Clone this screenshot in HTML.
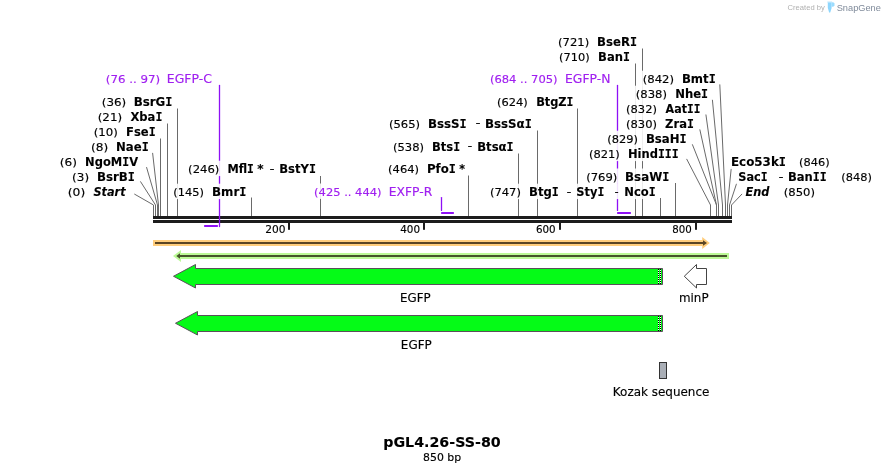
<!DOCTYPE html>
<html><head><meta charset="utf-8"><title>pGL4.26-SS-80</title>
<style>html,body{margin:0;padding:0;background:#fff}svg{display:block}text{font-family:'DejaVu Sans', 'Liberation Sans', sans-serif;white-space:pre}text.ls{font-family:Liberation Sans,Arial,sans-serif}</style></head><body>
<svg width="885" height="473" viewBox="0 0 885 473">
<rect width="885" height="473" fill="#fff"/>
<rect x="153" y="216" width="579" height="3" fill="#1c1c1c"/>
<rect x="153" y="220" width="579" height="3" fill="#1c1c1c"/>
<rect x="288" y="223" width="2" height="6.8" fill="#1c1c1c"/>
<rect x="423" y="223" width="2" height="6.8" fill="#1c1c1c"/>
<rect x="559" y="223" width="2" height="6.8" fill="#1c1c1c"/>
<rect x="695" y="223" width="2" height="6.8" fill="#1c1c1c"/>
<g stroke="#6a6a6a" stroke-width="1" fill="none">
<path d="M177.5 108.5V216"/>
<path d="M167.5 123.5V216"/>
<path d="M160.5 138.5V216"/>
<path d="M251.5 197.5V216"/>
<path d="M320.5 176V216"/>
<path d="M468.5 175.5V216"/>
<path d="M518.5 153.5V216"/>
<path d="M537.5 130.5V216"/>
<path d="M577.5 108.5V216"/>
<path d="M635.5 63.5V216"/>
<path d="M642.5 48.5V216"/>
<path d="M660.5 198V216"/>
<path d="M675.5 183V216"/>
<path d="M134.3 194.0L153.5 205V216"/>
<path d="M140.4 181.4L155.5 205V216"/>
<path d="M146.5 167.1L157.5 205V216"/>
<path d="M152.6 152.9L158.5 205V216"/>
<path d="M686.6 158.9L710.5 205V216"/>
<path d="M692.3 144.3L716.5 205V216"/>
<path d="M699.8 129.4L716.5 205V216"/>
<path d="M705.9 114.5L718.5 205V216"/>
<path d="M712.4 99.8L722.5 205V216"/>
<path d="M719.8 84.4L725.5 205V216"/>
<path d="M731.3 167.6L727.5 205V216"/>
<path d="M736.8 182.9L729.5 205V216"/>
<path d="M742.1 193.9L731.5 205V216"/>
</g>
<g stroke="#8e10f5" fill="none" stroke-width="1.3" stroke-linecap="round">
<path d="M219.5 85.5V226.5"/>
<path d="M441.5 197.6V210.4"/>
<path d="M617.5 85.5V210.4"/>
</g>
<g fill="#8e10f5">
<rect x="204" y="225" width="14" height="2" rx="0.7"/>
<rect x="441" y="212" width="13" height="2" rx="0.7"/>
<rect x="617" y="212" width="14" height="2" rx="0.7"/>
</g>
<g fill="#fff" fill-opacity="0.88">
<rect x="99.9" y="93.7" width="74.5" height="15.4"/>
<rect x="95.8" y="108.7" width="68.5" height="15.4"/>
<rect x="91.8" y="123.7" width="65.8" height="15.4"/>
<rect x="89.1" y="138.7" width="61.5" height="15.4"/>
<rect x="58.0" y="153.7" width="82.8" height="15.4"/>
<rect x="70.2" y="168.7" width="66.6" height="15.4"/>
<rect x="65.9" y="183.7" width="62.8" height="15.4"/>
<rect x="103.9" y="70.7" width="110.2" height="15.4"/>
<rect x="171.3" y="183.7" width="77.1" height="15.4"/>
<rect x="186.2" y="160.7" width="131.7" height="15.4"/>
<rect x="312.2" y="183.5" width="122.5" height="15.4"/>
<rect x="386.2" y="160.7" width="81.4" height="15.4"/>
<rect x="391.1" y="138.2" width="124.4" height="15.4"/>
<rect x="387.0" y="115.2" width="146.7" height="15.4"/>
<rect x="556.1" y="33.5" width="82.7" height="15.4"/>
<rect x="557.2" y="48.5" width="74.7" height="15.4"/>
<rect x="488.0" y="70.7" width="124.0" height="15.4"/>
<rect x="495.1" y="93.5" width="80.3" height="15.4"/>
<rect x="488.0" y="183.7" width="169.7" height="15.4"/>
<rect x="584.3" y="168.5" width="86.9" height="15.4"/>
<rect x="587.1" y="145.7" width="93.5" height="15.4"/>
<rect x="605.4" y="130.7" width="83.1" height="15.4"/>
<rect x="624.1" y="115.7" width="71.7" height="15.4"/>
<rect x="624.1" y="100.7" width="78.2" height="15.4"/>
<rect x="633.9" y="85.7" width="76.2" height="15.4"/>
<rect x="640.8" y="70.7" width="76.8" height="15.4"/>
<rect x="729.1" y="153.7" width="102.5" height="15.4"/>
<rect x="736.1" y="168.7" width="137.6" height="15.4"/>
<rect x="742.7" y="183.7" width="74.1" height="15.4"/>
</g>
<text transform="translate(101.78 106) scale(1.0832 1)" font-size="11.0" fill="#000" stroke="#000" stroke-width="0.15">(36)</text>
<text transform="translate(133.68 106) scale(1.0146 1)" font-size="11.7" font-weight="bold" fill="#000" stroke="#000" stroke-width="0.1">BsrG<tspan font-family="DejaVu Sans Mono, Liberation Mono, monospace">I</tspan></text>
<text transform="translate(97.68 121) scale(1.0832 1)" font-size="11.0" fill="#000" stroke="#000" stroke-width="0.15">(21)</text>
<text transform="translate(130.42 121) scale(0.9897 1)" font-size="11.7" font-weight="bold" fill="#000" stroke="#000" stroke-width="0.1">Xba<tspan font-family="DejaVu Sans Mono, Liberation Mono, monospace">I</tspan></text>
<text transform="translate(93.69 136) scale(1.0687 1)" font-size="11.0" fill="#000" stroke="#000" stroke-width="0.15">(10)</text>
<text transform="translate(126.01 136) scale(0.9906 1)" font-size="11.7" font-weight="bold" fill="#000" stroke="#000" stroke-width="0.1">Fse<tspan font-family="DejaVu Sans Mono, Liberation Mono, monospace">I</tspan></text>
<text transform="translate(90.95 151) scale(1.1070 1)" font-size="11.0" fill="#000" stroke="#000" stroke-width="0.15">(8)</text>
<text transform="translate(116.00 151) scale(1.0015 1)" font-size="11.7" font-weight="bold" fill="#000" stroke="#000" stroke-width="0.1">Nae<tspan font-family="DejaVu Sans Mono, Liberation Mono, monospace">I</tspan></text>
<text transform="translate(59.85 166) scale(1.1070 1)" font-size="11.0" fill="#000" stroke="#000" stroke-width="0.15">(6)</text>
<text transform="translate(85.12 166) scale(0.9817 1)" font-size="11.7" font-weight="bold" fill="#000" stroke="#000" stroke-width="0.1">NgoM<tspan font-family="DejaVu Sans Mono, Liberation Mono, monospace">I</tspan>V</text>
<text transform="translate(72.07 181) scale(1.0924 1)" font-size="11.0" fill="#000" stroke="#000" stroke-width="0.15">(3)</text>
<text transform="translate(96.99 181) scale(1.0093 1)" font-size="11.7" font-weight="bold" fill="#000" stroke="#000" stroke-width="0.1">BsrB<tspan font-family="DejaVu Sans Mono, Liberation Mono, monospace">I</tspan></text>
<text transform="translate(67.74 196) scale(1.1217 1)" font-size="11.0" fill="#000" stroke="#000" stroke-width="0.15">(0)</text>
<text transform="translate(93.42 196) scale(0.9657 1)" font-size="11.7" font-weight="bold" font-style="italic" fill="#000" stroke="#000" stroke-width="0.1">Start</text>
<text transform="translate(105.79 83) scale(1.0757 1)" font-size="11.0" fill="#a020f0" stroke="#a020f0" stroke-width="0.15">(76 .. 97)</text>
<text transform="translate(166.81 83) scale(1.0375 1)" font-size="12.0" fill="#a020f0" stroke="#a020f0" stroke-width="0.15">EGFP-C</text>
<text transform="translate(173.22 196) scale(1.0395 1)" font-size="11.0" fill="#000" stroke="#000" stroke-width="0.15">(145)</text>
<text transform="translate(212.08 196) scale(1.0144 1)" font-size="11.7" font-weight="bold" fill="#000" stroke="#000" stroke-width="0.1">Bmr<tspan font-family="DejaVu Sans Mono, Liberation Mono, monospace">I</tspan></text>
<text transform="translate(188.11 173) scale(1.0540 1)" font-size="11.0" fill="#000" stroke="#000" stroke-width="0.15">(246)</text>
<text transform="translate(227.43 173) scale(0.9689 1)" font-size="11.7" font-weight="bold" fill="#000" stroke="#000" stroke-width="0.1">Mfl<tspan font-family="DejaVu Sans Mono, Liberation Mono, monospace">I</tspan></text>
<text transform="translate(257.21 173) scale(1.0328 1)" font-size="11.7" font-weight="bold" fill="#000" stroke="#000" stroke-width="0.1">*</text>
<text transform="translate(269.82 171.8) scale(1.1538 1)" font-size="11.0" fill="#000" stroke="#000" stroke-width="0.35">-</text>
<text transform="translate(279.20 173) scale(0.9948 1)" font-size="11.7" font-weight="bold" fill="#000" stroke="#000" stroke-width="0.1">BstY<tspan font-family="DejaVu Sans Mono, Liberation Mono, monospace">I</tspan></text>
<text transform="translate(314.12 195.8) scale(1.0449 1)" font-size="11.0" fill="#a020f0" stroke="#a020f0" stroke-width="0.15">(425 .. 444)</text>
<text transform="translate(388.72 195.8) scale(1.0270 1)" font-size="12.0" fill="#a020f0" stroke="#a020f0" stroke-width="0.15">EXFP-R</text>
<text transform="translate(388.11 173) scale(1.0467 1)" font-size="11.0" fill="#000" stroke="#000" stroke-width="0.15">(464)</text>
<text transform="translate(426.89 173) scale(1.0084 1)" font-size="11.7" font-weight="bold" fill="#000" stroke="#000" stroke-width="0.1">Pfo<tspan font-family="DejaVu Sans Mono, Liberation Mono, monospace">I</tspan></text>
<text transform="translate(459.23 173) scale(0.9437 1)" font-size="11.7" font-weight="bold" fill="#000" stroke="#000" stroke-width="0.1">*</text>
<text transform="translate(393.01 150.5) scale(1.0503 1)" font-size="11.0" fill="#000" stroke="#000" stroke-width="0.15">(538)</text>
<text transform="translate(432.01 150.5) scale(0.9871 1)" font-size="11.7" font-weight="bold" fill="#000" stroke="#000" stroke-width="0.1">Bts<tspan font-family="DejaVu Sans Mono, Liberation Mono, monospace">I</tspan></text>
<text transform="translate(467.85 149.3) scale(1.0839 1)" font-size="11.0" fill="#000" stroke="#000" stroke-width="0.35">-</text>
<text transform="translate(477.20 150.5) scale(0.9967 1)" font-size="11.7" font-weight="bold" fill="#000" stroke="#000" stroke-width="0.1">Btsα<tspan font-family="DejaVu Sans Mono, Liberation Mono, monospace">I</tspan></text>
<text transform="translate(388.91 127.5) scale(1.0540 1)" font-size="11.0" fill="#000" stroke="#000" stroke-width="0.15">(565)</text>
<text transform="translate(427.88 127.5) scale(1.0119 1)" font-size="11.7" font-weight="bold" fill="#000" stroke="#000" stroke-width="0.1">BssS<tspan font-family="DejaVu Sans Mono, Liberation Mono, monospace">I</tspan></text>
<text transform="translate(475.72 126.3) scale(1.1538 1)" font-size="11.0" fill="#000" stroke="#000" stroke-width="0.35">-</text>
<text transform="translate(484.88 127.5) scale(1.0126 1)" font-size="11.7" font-weight="bold" fill="#000" stroke="#000" stroke-width="0.1">BssSα<tspan font-family="DejaVu Sans Mono, Liberation Mono, monospace">I</tspan></text>
<text transform="translate(558.01 45.8) scale(1.0540 1)" font-size="11.0" fill="#000" stroke="#000" stroke-width="0.15">(721)</text>
<text transform="translate(597.10 45.8) scale(1.0002 1)" font-size="11.7" font-weight="bold" fill="#000" stroke="#000" stroke-width="0.1">BseR<tspan font-family="DejaVu Sans Mono, Liberation Mono, monospace">I</tspan></text>
<text transform="translate(559.12 60.8) scale(1.0359 1)" font-size="11.0" fill="#000" stroke="#000" stroke-width="0.15">(710)</text>
<text transform="translate(598.11 60.8) scale(0.9905 1)" font-size="11.7" font-weight="bold" fill="#000" stroke="#000" stroke-width="0.1">Ban<tspan font-family="DejaVu Sans Mono, Liberation Mono, monospace">I</tspan></text>
<text transform="translate(489.91 83) scale(1.0497 1)" font-size="11.0" fill="#a020f0" stroke="#a020f0" stroke-width="0.15">(684 .. 705)</text>
<text transform="translate(565.01 83) scale(1.0303 1)" font-size="12.0" fill="#a020f0" stroke="#a020f0" stroke-width="0.15">EGFP-N</text>
<text transform="translate(497.02 105.8) scale(1.0395 1)" font-size="11.0" fill="#000" stroke="#000" stroke-width="0.15">(624)</text>
<text transform="translate(536.13 105.8) scale(0.9729 1)" font-size="11.7" font-weight="bold" fill="#000" stroke="#000" stroke-width="0.1">BtgZ<tspan font-family="DejaVu Sans Mono, Liberation Mono, monospace">I</tspan></text>
<text transform="translate(489.91 196) scale(1.0503 1)" font-size="11.0" fill="#000" stroke="#000" stroke-width="0.15">(747)</text>
<text transform="translate(529.10 196) scale(0.9948 1)" font-size="11.7" font-weight="bold" fill="#000" stroke="#000" stroke-width="0.1">Btg<tspan font-family="DejaVu Sans Mono, Liberation Mono, monospace">I</tspan></text>
<text transform="translate(566.73 194.8) scale(1.1189 1)" font-size="11.0" fill="#000" stroke="#000" stroke-width="0.35">-</text>
<text transform="translate(576.25 196) scale(0.9773 1)" font-size="11.7" font-weight="bold" fill="#000" stroke="#000" stroke-width="0.1">Sty<tspan font-family="DejaVu Sans Mono, Liberation Mono, monospace">I</tspan></text>
<text transform="translate(614.83 194.8) scale(0.9441 1)" font-size="11.0" fill="#000" stroke="#000" stroke-width="0.35">-</text>
<text transform="translate(624.31 196) scale(0.9888 1)" font-size="11.7" font-weight="bold" fill="#000" stroke="#000" stroke-width="0.1">Nco<tspan font-family="DejaVu Sans Mono, Liberation Mono, monospace">I</tspan></text>
<text transform="translate(586.21 180.8) scale(1.0540 1)" font-size="11.0" fill="#000" stroke="#000" stroke-width="0.15">(769)</text>
<text transform="translate(625.08 180.8) scale(1.0132 1)" font-size="11.7" font-weight="bold" fill="#000" stroke="#000" stroke-width="0.1">BsaW<tspan font-family="DejaVu Sans Mono, Liberation Mono, monospace">I</tspan></text>
<text transform="translate(589.02 158) scale(1.0431 1)" font-size="11.0" fill="#000" stroke="#000" stroke-width="0.15">(821)</text>
<text transform="translate(627.91 158) scale(0.9837 1)" font-size="11.7" font-weight="bold" fill="#000" stroke="#000" stroke-width="0.1">Hind<tspan font-family="DejaVu Sans Mono, Liberation Mono, monospace">III</tspan></text>
<text transform="translate(607.32 143) scale(1.0395 1)" font-size="11.0" fill="#000" stroke="#000" stroke-width="0.15">(829)</text>
<text transform="translate(645.89 143) scale(1.0023 1)" font-size="11.7" font-weight="bold" fill="#000" stroke="#000" stroke-width="0.1">BsaH<tspan font-family="DejaVu Sans Mono, Liberation Mono, monospace">I</tspan></text>
<text transform="translate(626.01 128) scale(1.0467 1)" font-size="11.0" fill="#000" stroke="#000" stroke-width="0.15">(830)</text>
<text transform="translate(665.07 128) scale(0.9887 1)" font-size="11.7" font-weight="bold" fill="#000" stroke="#000" stroke-width="0.1">Zra<tspan font-family="DejaVu Sans Mono, Liberation Mono, monospace">I</tspan></text>
<text transform="translate(626.01 113) scale(1.0467 1)" font-size="11.0" fill="#000" stroke="#000" stroke-width="0.15">(832)</text>
<text transform="translate(665.54 113) scale(0.9503 1)" font-size="11.7" font-weight="bold" fill="#000" stroke="#000" stroke-width="0.1">Aat<tspan font-family="DejaVu Sans Mono, Liberation Mono, monospace">II</tspan></text>
<text transform="translate(635.81 98) scale(1.0540 1)" font-size="11.0" fill="#000" stroke="#000" stroke-width="0.15">(838)</text>
<text transform="translate(675.20 98) scale(0.9961 1)" font-size="11.7" font-weight="bold" fill="#000" stroke="#000" stroke-width="0.1">Nhe<tspan font-family="DejaVu Sans Mono, Liberation Mono, monospace">I</tspan></text>
<text transform="translate(642.70 83) scale(1.0612 1)" font-size="11.0" fill="#000" stroke="#000" stroke-width="0.15">(842)</text>
<text transform="translate(681.89 83) scale(1.0029 1)" font-size="11.7" font-weight="bold" fill="#000" stroke="#000" stroke-width="0.1">Bmt<tspan font-family="DejaVu Sans Mono, Liberation Mono, monospace">I</tspan></text>
<text transform="translate(730.98 166) scale(1.0180 1)" font-size="11.7" font-weight="bold" fill="#000" stroke="#000" stroke-width="0.1">Eco53k<tspan font-family="DejaVu Sans Mono, Liberation Mono, monospace">I</tspan></text>
<text transform="translate(799.12 166) scale(1.0359 1)" font-size="11.0" fill="#000" stroke="#000" stroke-width="0.15">(846)</text>
<text transform="translate(738.26 181) scale(0.9703 1)" font-size="11.7" font-weight="bold" fill="#000" stroke="#000" stroke-width="0.1">Sac<tspan font-family="DejaVu Sans Mono, Liberation Mono, monospace">I</tspan></text>
<text transform="translate(778.72 179.8) scale(1.1538 1)" font-size="11.0" fill="#000" stroke="#000" stroke-width="0.35">-</text>
<text transform="translate(787.91 181) scale(0.9891 1)" font-size="11.7" font-weight="bold" fill="#000" stroke="#000" stroke-width="0.1">Ban<tspan font-family="DejaVu Sans Mono, Liberation Mono, monospace">II</tspan></text>
<text transform="translate(841.22 181) scale(1.0359 1)" font-size="11.0" fill="#000" stroke="#000" stroke-width="0.15">(848)</text>
<text transform="translate(745.42 196) scale(0.9687 1)" font-size="11.7" font-weight="bold" font-style="italic" fill="#000" stroke="#000" stroke-width="0.1">End</text>
<text transform="translate(783.81 196) scale(1.0540 1)" font-size="11.0" fill="#000" stroke="#000" stroke-width="0.15">(850)</text>
<text transform="translate(265.31 232.6) scale(0.9656 1)" font-size="11.0" fill="#000" stroke="#000" stroke-width="0.15">200</text>
<text transform="translate(400.23 232.6) scale(0.9446 1)" font-size="11.0" fill="#000" stroke="#000" stroke-width="0.15">400</text>
<text transform="translate(535.93 232.6) scale(0.9399 1)" font-size="11.0" fill="#000" stroke="#000" stroke-width="0.15">600</text>
<text transform="translate(672.33 232.6) scale(0.9296 1)" font-size="11.0" fill="#000" stroke="#000" stroke-width="0.15">800</text>
<text transform="translate(400.07 302) scale(0.9864 1)" font-size="12.0" fill="#000" stroke="#000" stroke-width="0.15">EGFP</text>
<text transform="translate(400.85 349) scale(0.9966 1)" font-size="12.0" fill="#000" stroke="#000" stroke-width="0.15">EGFP</text>
<text transform="translate(678.98 302) scale(0.9922 1)" font-size="12.0" fill="#000" stroke="#000" stroke-width="0.15">minP</text>
<text transform="translate(612.85 395.7) scale(0.9975 1)" font-size="12.0" fill="#000" stroke="#000" stroke-width="0.15">Kozak sequence</text>
<text transform="translate(383.21 446.8) scale(1.0174 1)" font-size="14.0" font-weight="bold" fill="#000" stroke="#000" stroke-width="0.1">pGL4.26-SS-80</text>
<text transform="translate(423.09 460.7) scale(0.9927 1)" font-size="11.0" fill="#000" stroke="#000" stroke-width="0.15">850 bp</text>
<path d="M153 240H702.2V237L709.8 243L702.2 249V246H153Z" fill="#ffcd7c"/>
<path d="M155 242H703V240.2L707 243L703 245.8V244H155Z" fill="#5a4524"/>
<path d="M729 253H181V250L173 256L181 262V259H729Z" fill="#bcf997"/>
<path d="M727 255H180V253.3L176.3 256L180 258.7V257H727Z" fill="#45532b"/>
<path d="M662.5 268.5H195.5V264.5L173.5 276.25L195.5 288V284.5H662.5Z" fill="#05fb17" stroke="#5a505a" stroke-width="1" stroke-linejoin="miter"/>
<path d="M662.5 315.5H197.5V311.5L175.5 323.25L197.5 335V331.5H662.5Z" fill="#05fb17" stroke="#5a505a" stroke-width="1" stroke-linejoin="miter"/>
<rect x="658" y="269" width="1" height="1" fill="#000"/><rect x="660" y="269" width="1" height="1" fill="#000"/>
<rect x="658" y="270" width="1" height="1" fill="#fff"/><rect x="660" y="270" width="1" height="1" fill="#fff"/>
<rect x="658" y="271" width="1" height="1" fill="#000"/><rect x="660" y="271" width="1" height="1" fill="#000"/>
<rect x="658" y="272" width="1" height="1" fill="#fff"/><rect x="660" y="272" width="1" height="1" fill="#fff"/>
<rect x="658" y="273" width="1" height="1" fill="#000"/><rect x="660" y="273" width="1" height="1" fill="#000"/>
<rect x="658" y="274" width="1" height="1" fill="#fff"/><rect x="660" y="274" width="1" height="1" fill="#fff"/>
<rect x="658" y="275" width="1" height="1" fill="#000"/><rect x="660" y="275" width="1" height="1" fill="#000"/>
<rect x="658" y="276" width="1" height="1" fill="#fff"/><rect x="660" y="276" width="1" height="1" fill="#fff"/>
<rect x="658" y="277" width="1" height="1" fill="#000"/><rect x="660" y="277" width="1" height="1" fill="#000"/>
<rect x="658" y="278" width="1" height="1" fill="#fff"/><rect x="660" y="278" width="1" height="1" fill="#fff"/>
<rect x="658" y="279" width="1" height="1" fill="#000"/><rect x="660" y="279" width="1" height="1" fill="#000"/>
<rect x="658" y="280" width="1" height="1" fill="#fff"/><rect x="660" y="280" width="1" height="1" fill="#fff"/>
<rect x="658" y="281" width="1" height="1" fill="#000"/><rect x="660" y="281" width="1" height="1" fill="#000"/>
<rect x="658" y="282" width="1" height="1" fill="#fff"/><rect x="660" y="282" width="1" height="1" fill="#fff"/>
<rect x="658" y="283" width="1" height="1" fill="#000"/><rect x="660" y="283" width="1" height="1" fill="#000"/>
<rect x="658" y="316" width="1" height="1" fill="#000"/><rect x="660" y="316" width="1" height="1" fill="#000"/>
<rect x="658" y="317" width="1" height="1" fill="#fff"/><rect x="660" y="317" width="1" height="1" fill="#fff"/>
<rect x="658" y="318" width="1" height="1" fill="#000"/><rect x="660" y="318" width="1" height="1" fill="#000"/>
<rect x="658" y="319" width="1" height="1" fill="#fff"/><rect x="660" y="319" width="1" height="1" fill="#fff"/>
<rect x="658" y="320" width="1" height="1" fill="#000"/><rect x="660" y="320" width="1" height="1" fill="#000"/>
<rect x="658" y="321" width="1" height="1" fill="#fff"/><rect x="660" y="321" width="1" height="1" fill="#fff"/>
<rect x="658" y="322" width="1" height="1" fill="#000"/><rect x="660" y="322" width="1" height="1" fill="#000"/>
<rect x="658" y="323" width="1" height="1" fill="#fff"/><rect x="660" y="323" width="1" height="1" fill="#fff"/>
<rect x="658" y="324" width="1" height="1" fill="#000"/><rect x="660" y="324" width="1" height="1" fill="#000"/>
<rect x="658" y="325" width="1" height="1" fill="#fff"/><rect x="660" y="325" width="1" height="1" fill="#fff"/>
<rect x="658" y="326" width="1" height="1" fill="#000"/><rect x="660" y="326" width="1" height="1" fill="#000"/>
<rect x="658" y="327" width="1" height="1" fill="#fff"/><rect x="660" y="327" width="1" height="1" fill="#fff"/>
<rect x="658" y="328" width="1" height="1" fill="#000"/><rect x="660" y="328" width="1" height="1" fill="#000"/>
<rect x="658" y="329" width="1" height="1" fill="#fff"/><rect x="660" y="329" width="1" height="1" fill="#fff"/>
<rect x="658" y="330" width="1" height="1" fill="#000"/><rect x="660" y="330" width="1" height="1" fill="#000"/>
<path d="M706.5 268.5H696.5V264.5L684.3 276.25L696.5 288V284.5H706.5Z" fill="#fff" stroke="#444" stroke-width="1"/>
<rect x="659.5" y="362.5" width="7" height="16" fill="#a9aeb6" stroke="#333" stroke-width="1"/>
<text x="787.6" y="10.3" class="ls" font-size="7.6" fill="#b0b0b0" textLength="37.2" lengthAdjust="spacingAndGlyphs">Created by</text>
<rect x="827.3" y="1.4" width="4.8" height="1.3" fill="#a5defc" opacity="0.6"/>
<path d="M827.8 2.6H831.6V8L830.3 12.3Q829.7 13.1 829.1 12.3L827.8 8Z" fill="#8ed6fd"/>
<path d="M831.6 2.5Q833.2 1.5 834.5 3.2V5.8Q833.2 7.3 831.6 6.6Z" fill="#9bdcfe"/>
<text x="836.7" y="10.8" class="ls" font-size="9.3" fill="#7f8a9a" textLength="44.2" lengthAdjust="spacingAndGlyphs">SnapGene</text>
</svg></body></html>
